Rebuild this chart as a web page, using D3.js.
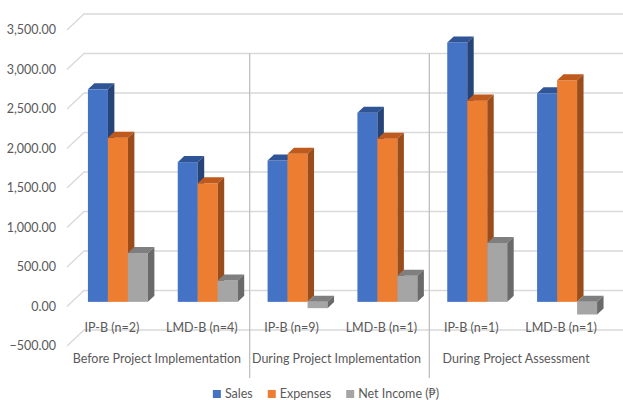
<!DOCTYPE html>
<html>
<head>
<meta charset="utf-8">
<script src="https://cdn.jsdelivr.net/npm/d3@7"></script>
<style>
  body { margin: 0; background: #fff; }
  text { font-family: Lato, "Open Sans", sans-serif; fill: #595959; }
</style>
</head>
<body>
<div id="chart"></div>
<script>
// data
const phases = ["Before Project Implementation", "During Project Implementation", "During Project Assessment"];
const groups = ["IP-B (n=2)", "LMD-B (n=4)", "IP-B (n=9)", "LMD-B (n=1)", "IP-B (n=1)", "LMD-B (n=1)"];
const groupPhase = [0, 0, 1, 1, 2, 2];
const series = ["Sales", "Expenses", "Net Income (\u20B1)"];
const sales = [2690, 1768, 1789, 2394, 3283, 2640];
const expenses = [2077, 1501, 1874, 2064, 2547, 2805];
const netIncome = [618, 270, -80, 330, 745, -160];
const yTicks = [-500, 0, 500, 1000, 1500, 2000, 2500, 3000, 3500];

const colors = [
    {front: "#4472C4", top: "#2F5597", side: "#264478"},
    {front: "#ED7D31", top: "#C0591C", side: "#9A4D1A"},
    {front: "#A5A5A5", top: "#7F7F7F", side: "#6A6A6A"}
];

const W = 623, H = 400;
const depthX = 17, depthY = 16;      // floor depth (back wall -> front)
const barFront = 0.71, barBack = 0.33; // bar depth as fraction of floor depth

const svg = d3.select("#chart").append("svg")
    .attr("width", W)
    .attr("height", H);

const x = d3.scaleBand()
    .domain(d3.range(groups.length))
    .range([84, 623]);
const bw = x.bandwidth();
const x1 = d3.scaleBand()
    .domain(d3.range(series.length))
    .range([bw * 0.178, bw * 0.178 + 60]);
const y = d3.scaleLinear()
    .domain([-500, 3500])
    .range([330, 14]);

// gridlines with the left wall diagonal
svg.append("g").selectAll("path")
    .data(yTicks)
    .join("path")
    .attr("d", d => `M${x.range()[0] - depthX},${y(d) + depthY}L${x.range()[0]},${y(d)}L${x.range()[1]},${y(d)}`)
    .attr("fill", "none")
    .attr("stroke", "#d9d9d9")
    .attr("stroke-width", 1.3);

svg.append("g").selectAll("text")
    .data(yTicks)
    .join("text")
    .attr("x", 56)
    .attr("y", d => y(d) + depthY)
    .attr("dy", "0.35em")
    .attr("text-anchor", "end")
    .style("font-size", "12.5px")
    .text(d => d3.format(",.2f")(d));

// phase separators
svg.append("g").selectAll("line")
    .data([2, 4])
    .join("line")
    .attr("x1", d => x(d) - 14)
    .attr("x2", d => x(d) - 14)
    .attr("y1", y(3000))
    .attr("y2", y(-500) + 48)
    .attr("stroke", "#bfbfbf")
    .attr("stroke-width", 1.3);

// bars
const values = [sales, expenses, netIncome];
const dx = depthX * (barFront - barBack), dy = depthY * (barFront - barBack);
const bars = svg.append("g");
groups.forEach((g, i) => {
    series.forEach((s, j) => {
        const v = values[j][i];
        const xf = x(i) - depthX * barFront + x1(j);
        const w = x1.bandwidth();
        const yTop = y(Math.max(v, 0)) + depthY * barFront;
        const yBot = y(Math.min(v, 0)) + depthY * barFront;
        const c = colors[j];
        bars.append("rect")
            .attr("x", xf)
            .attr("y", yTop)
            .attr("width", w)
            .attr("height", yBot - yTop)
            .attr("fill", c.front);
        bars.append("path")
            .attr("d", `M${xf},${yTop}L${xf + dx},${yTop - dy}L${xf + w + dx},${yTop - dy}L${xf + w},${yTop}Z`)
            .attr("fill", c.top);
        bars.append("path")
            .attr("d", `M${xf + w},${yTop}L${xf + w + dx},${yTop - dy}L${xf + w + dx},${yBot - dy}L${xf + w},${yBot}Z`)
            .attr("fill", c.side);
    });
});

// category labels
svg.append("g").selectAll("text")
    .data(groups)
    .join("text")
    .attr("x", (d, i) => x(i) + bw / 2 - depthX)
    .attr("y", y(-500) - 2)
    .attr("dy", "0.35em")
    .attr("text-anchor", "middle")
    .style("font-size", "12.5px")
    .text(d => d);

svg.append("g").selectAll("text")
    .data(phases)
    .join("text")
    .attr("x", (d, i) => x(i * 2) + bw - depthX)
    .attr("y", y(-500) + 29)
    .attr("dy", "0.35em")
    .attr("text-anchor", "middle")
    .style("font-size", "12.5px")
    .text(d => d);

// legend
const legend = svg.append("g");
let lx = 0;
series.forEach((s, j) => {
    const item = legend.append("g").attr("transform", `translate(${lx},0)`);
    item.append("rect")
        .attr("x", 0)
        .attr("y", -4)
        .attr("width", 8)
        .attr("height", 8)
        .attr("fill", colors[j].front);
    const t = item.append("text")
        .attr("x", 12)
        .attr("dy", "0.35em")
        .style("font-size", "12.5px")
        .text(s);
    lx += 12 + t.node().getComputedTextLength() + 15;
});
lx -= 15;
legend.attr("transform", `translate(${326 - lx / 2},${394})`);
</script>
</body>
</html>
